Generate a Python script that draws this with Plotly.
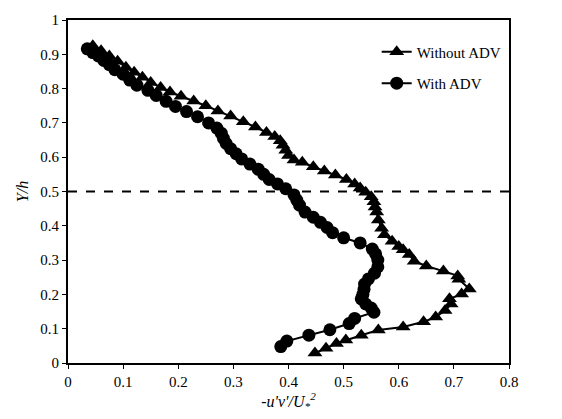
import plotly.graph_objects as go

# Without ADV (triangles), ordered from top to bottom
tri_x = [0.045, 0.06, 0.075, 0.09, 0.105, 0.12, 0.135, 0.15, 0.168, 0.185, 0.205, 0.228,
         0.25, 0.272, 0.295, 0.318, 0.34, 0.36, 0.375, 0.385, 0.39, 0.395, 0.40, 0.41,
         0.425, 0.445, 0.465, 0.485, 0.505, 0.52, 0.53, 0.54, 0.55, 0.555, 0.557, 0.56,
         0.563, 0.569, 0.574, 0.588, 0.600, 0.608, 0.619, 0.628, 0.650, 0.681, 0.707,
         0.709, 0.728, 0.714, 0.692, 0.695, 0.684, 0.667, 0.645, 0.608, 0.563, 0.532,
         0.504, 0.487, 0.468, 0.448]
tri_y = [0.925, 0.91, 0.895, 0.88, 0.862, 0.848, 0.833, 0.818, 0.803, 0.79, 0.778, 0.764,
         0.75, 0.735, 0.72, 0.703, 0.688, 0.672, 0.66, 0.648, 0.635, 0.62, 0.605, 0.592,
         0.585, 0.572, 0.56, 0.548, 0.535, 0.522, 0.51, 0.498, 0.485, 0.47, 0.455, 0.44,
         0.417, 0.393, 0.374, 0.355, 0.34, 0.33, 0.316, 0.297, 0.283, 0.268, 0.254,
         0.244, 0.216, 0.201, 0.187, 0.172, 0.153, 0.134, 0.12, 0.105, 0.096, 0.081,
         0.067, 0.057, 0.043, 0.029]

# With ADV (circles), ordered from top to bottom
cir_x = [0.035, 0.045, 0.055, 0.065, 0.075, 0.085, 0.1, 0.112, 0.125, 0.145, 0.16, 0.178,
         0.195, 0.215, 0.235, 0.255, 0.27, 0.278, 0.282, 0.287, 0.295, 0.305, 0.315, 0.33,
         0.345, 0.355, 0.365, 0.38, 0.395, 0.41, 0.415, 0.42, 0.43, 0.445, 0.458, 0.47,
         0.48, 0.50, 0.53, 0.552, 0.558, 0.562, 0.562, 0.556, 0.545, 0.538, 0.537, 0.535,
         0.532, 0.54, 0.55, 0.555, 0.52, 0.51, 0.475, 0.437, 0.397, 0.386]
cir_y = [0.916, 0.905, 0.895, 0.882, 0.87, 0.855, 0.842, 0.825, 0.81, 0.795, 0.78, 0.763,
         0.748, 0.733, 0.718, 0.70, 0.685, 0.67, 0.655, 0.64, 0.625, 0.61, 0.595, 0.58,
         0.565, 0.55, 0.535, 0.522, 0.508, 0.49, 0.475, 0.46, 0.44, 0.425, 0.41, 0.395,
         0.38, 0.365, 0.35, 0.332, 0.318, 0.30, 0.28, 0.262, 0.245, 0.23, 0.215, 0.20,
         0.187, 0.172, 0.16, 0.148, 0.13, 0.115, 0.097, 0.081, 0.064, 0.048]

ref_y = 0.5
x_ticks = [0, 0.1, 0.2, 0.3, 0.4, 0.5, 0.6, 0.7, 0.8]
y_ticks = [0, 0.1, 0.2, 0.3, 0.4, 0.5, 0.6, 0.7, 0.8, 0.9, 1]

FONT = "Liberation Serif"

fig = go.Figure()
fig.add_trace(go.Scatter(
    x=tri_x, y=tri_y, mode="lines+markers", name="Without ADV", legendgroup="a",
    line=dict(color="black", width=2),
    marker=dict(symbol="triangle-up", size=13, color="black"),
))
fig.add_trace(go.Scatter(
    x=cir_x, y=cir_y, mode="lines+markers", name="With ADV", legendgroup="b",
    line=dict(color="black", width=2),
    marker=dict(symbol="circle", size=13, color="black"),
))

fig.add_shape(type="line", xref="paper", yref="y", x0=0, x1=1, y0=ref_y, y1=ref_y,
              line=dict(color="black", width=2, dash="dash"))

axis_common = dict(
    showgrid=False, zeroline=False, showline=True, linecolor="black", linewidth=2,
    mirror=True, ticks="outside", ticklen=4, tickcolor="black", tickwidth=1,
    tickfont=dict(family=FONT, size=15, color="black"),
)

fig.update_layout(
    width=562, height=419,
    margin=dict(l=68, r=53, t=16, b=55),
    paper_bgcolor="white", plot_bgcolor="white",
    font=dict(family=FONT, size=15, color="black"),
    xaxis=dict(range=[0, 0.8], tickvals=x_ticks, ticktext=[f"{v:g}" for v in x_ticks],
               title=dict(text="<i>-u'v'/U<sub>*</sub><sup>2</sup></i>",
                          font=dict(family=FONT, size=16), standoff=6),
               **axis_common),
    yaxis=dict(range=[0, 1], tickvals=y_ticks, ticktext=[f"{v:g}" for v in y_ticks],
               title=dict(text="<i>Y/h</i>", font=dict(family=FONT, size=16), standoff=8),
               **axis_common),
    legend=dict(x=0.70, y=0.955, xanchor="left", yanchor="top", bgcolor="rgba(0,0,0,0)",
                font=dict(family=FONT, size=15, color="black"), tracegroupgap=9),
    showlegend=True,
)

fig.write_html("out.html")
